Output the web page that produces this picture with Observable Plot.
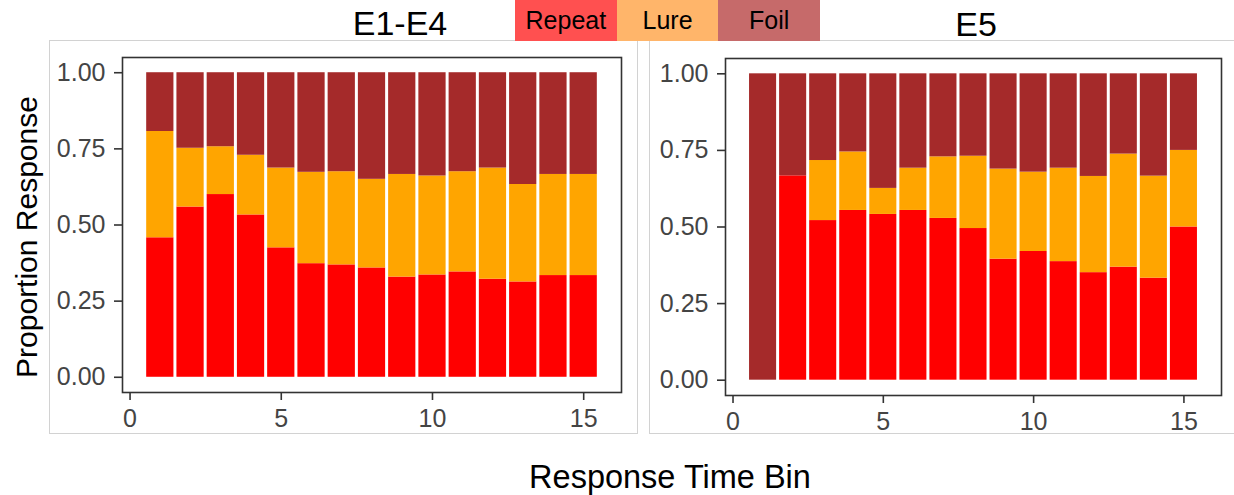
<!DOCTYPE html>
<html>
<head>
<meta charset="utf-8">
<script src="https://cdn.jsdelivr.net/npm/d3@7"></script>
<script src="https://cdn.jsdelivr.net/npm/@observablehq/plot@0.6"></script>
<style>
  html, body { margin: 0; padding: 0; background: #fff; width: 1234px; height: 495px; overflow: hidden; }
  body { position: relative; font-family: "Liberation Sans", Arial, sans-serif; }
  .box { position: absolute; border: 1px solid #d2d2d2; box-sizing: border-box; background: #fff; }
  .box svg { position: absolute; left: 0; top: 0; }
  .box svg text { font-size: 25px !important; font-family: "Liberation Sans", Arial, sans-serif !important; }
  #legend { position: absolute; left: 515px; top: 0; height: 41px; display: flex; }
  #legend div { width: 101.7px; height: 41px; line-height: 41px; text-align: center; font-size: 25px; color: #000; }
  #overlay { position: absolute; left: 0; top: 0; pointer-events: none; }
</style>
</head>
<body>
<div id="boxL" class="box" style="left:49px; top:40px; width:589px; height:394px;"></div>
<div id="boxR" class="box" style="left:649px; top:40px; width:600px; height:394px;"></div>
<div id="legend"></div>
<svg id="overlay" width="1234" height="495"></svg>
<script>
// ---- data ----
const bins = [1, 2, 3, 4, 5, 6, 7, 8, 9, 10, 11, 12, 13, 14, 15];
const categories = ["Repeat", "Lure", "Foil"];
const barColors = ["#FF0000", "#FFA500", "#A52A2A"];
const legendColors = ["#FF5050", "#FFB56A", "#C66A6A"];
const xTicks = [0, 5, 10, 15];
const yTicks = [0, 0.25, 0.5, 0.75, 1];

// Panel E1-E4
const e14Repeat = [0.458, 0.559, 0.600, 0.533, 0.425, 0.373, 0.369, 0.359, 0.329, 0.336, 0.346, 0.322, 0.313, 0.334, 0.334];
const e14Lure   = [0.349, 0.193, 0.157, 0.196, 0.262, 0.300, 0.306, 0.291, 0.337, 0.325, 0.329, 0.365, 0.320, 0.332, 0.332];
const e14Foil   = [0.193, 0.248, 0.243, 0.271, 0.313, 0.327, 0.325, 0.350, 0.334, 0.339, 0.325, 0.313, 0.367, 0.334, 0.334];

// Panel E5
const e5Repeat = [0.000, 0.667, 0.521, 0.554, 0.541, 0.554, 0.528, 0.495, 0.395, 0.420, 0.387, 0.351, 0.369, 0.333, 0.500];
const e5Lure   = [0.000, 0.000, 0.196, 0.191, 0.085, 0.138, 0.201, 0.236, 0.294, 0.259, 0.305, 0.314, 0.369, 0.333, 0.250];
const e5Foil   = [1.000, 0.333, 0.283, 0.255, 0.374, 0.308, 0.271, 0.269, 0.311, 0.321, 0.308, 0.335, 0.262, 0.334, 0.250];

const panelTitles = ["E1-E4", "E5"];
const xLabel = "Response Time Bin";
const yLabel = "Proportion Response";

function makeRows(rep, lure, foil) {
  const series = [rep, lure, foil];
  return bins.flatMap((b, i) => categories.map((c, k) => ({bin: b, cat: c, value: series[k][i]})));
}

function panel(rows, dims) {
  return Plot.plot({
    width: dims.width,
    height: dims.height,
    marginLeft: dims.ml,
    marginRight: dims.mr,
    marginTop: dims.mt,
    marginBottom: dims.mb,
    x: {domain: [-0.25, 16.25], label: null},
    y: {domain: [-0.05, 1.05], label: null},
    color: {domain: categories, range: barColors},
    style: {fontFamily: "'Liberation Sans', Arial, sans-serif", fontSize: "25px", background: "transparent", overflow: "visible"},
    marks: [
      Plot.rectY(rows, Plot.stackY({
        x1: d => d.bin - 0.5,
        x2: d => d.bin + 0.5,
        y: "value",
        fill: "cat",
        order: categories,
        insetLeft: 1.5,
        insetRight: 1.5
      })),
      Plot.frame({stroke: "#333333", strokeWidth: 1.6}),
      Plot.axisX(xTicks, {tickSize: 8, tickPadding: 9, stroke: "#333333", strokeWidth: 1.6, fill: "#444444", fontSize: 25, tickFormat: d => String(d), label: null}),
      Plot.axisY(yTicks, {tickSize: 8, tickPadding: 9, stroke: "#333333", strokeWidth: 1.6, fill: "#444444", fontSize: 25, tickFormat: d3.format(".2f"), label: null})
    ]
  });
}

const left = panel(makeRows(e14Repeat, e14Lure, e14Foil), {width: 587, height: 392, ml: 72, mr: 16, mt: 16, mb: 41});
const right = panel(makeRows(e5Repeat, e5Lure, e5Foil), {width: 584, height: 392, ml: 75, mr: 13, mt: 17, mb: 38});
document.getElementById("boxL").appendChild(left);
document.getElementById("boxR").appendChild(right);

// legend
const legend = document.getElementById("legend");
categories.forEach((c, i) => {
  const d = document.createElement("div");
  d.style.background = legendColors[i];
  d.textContent = c;
  legend.appendChild(d);
});

// overlay texts
const ov = d3.select("#overlay").style("font-family", "'Liberation Sans', Arial, sans-serif");
ov.append("text").attr("x", 400).attr("y", 35).attr("text-anchor", "middle").attr("font-size", 34).attr("fill", "#000").text(panelTitles[0]);
ov.append("text").attr("x", 976).attr("y", 36).attr("text-anchor", "middle").attr("font-size", 34).attr("fill", "#000").text(panelTitles[1]);
ov.append("text").attr("x", 670).attr("y", 488).attr("text-anchor", "middle").attr("font-size", 32.5).attr("fill", "#000").text(xLabel);
ov.append("text").attr("transform", "translate(36.5,237) rotate(-90)").attr("text-anchor", "middle").attr("font-size", 30).attr("fill", "#000").text(yLabel);
</script>
</body>
</html>
